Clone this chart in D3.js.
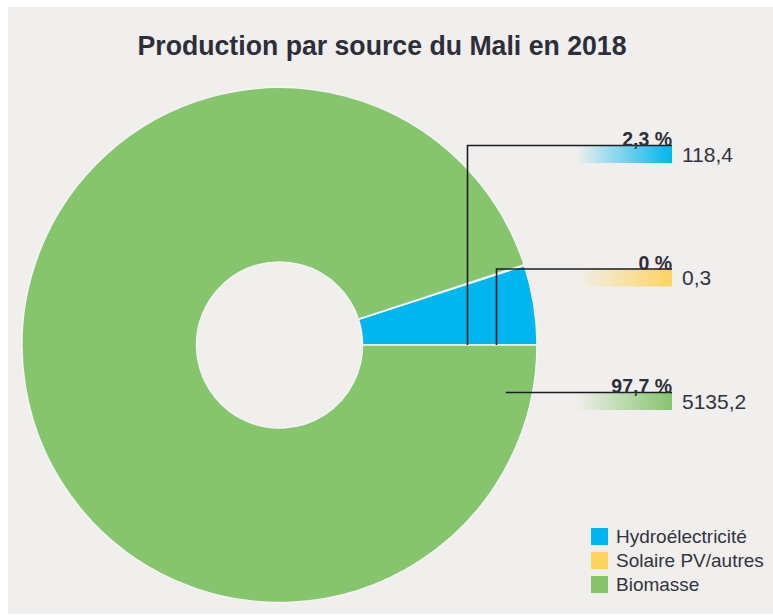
<!DOCTYPE html>
<html>
<head>
<meta charset="utf-8">
<script src="https://cdn.jsdelivr.net/npm/d3@7"></script>
<style>
  html, body { margin: 0; padding: 0; background: #ffffff; }
  svg { display: block; }
</style>
</head>
<body>
<div id="chart"></div>
<script>
const width = 773;
const height = 615;

// data
const sources = ["Hydroélectricité", "Solaire PV/autres", "Biomasse"];
const values = [118.4, 0.3, 5135.2];
// slice sizes as drawn in the picture (the hydro wedge is drawn larger than its 2,3 %)
const drawnShare = [5.0, 0.05, 94.95];
const colors = ["#00b6ef", "#ffd35e", "#86c46e"];

const title = "Production par source du Mali en 2018";

const fontFamily = "'Liberation Sans', Arial, sans-serif";
const textColor = "#333340";

const svg = d3.select("#chart")
  .append("svg")
  .attr("width", width)
  .attr("height", height);

// panel background
svg.append("rect")
  .attr("x", 8)
  .attr("y", 7)
  .attr("width", width - 8)
  .attr("height", height - 8)
  .attr("fill", "#f0efed");

svg.append("text")
  .attr("x", 382)
  .attr("y", 55)
  .attr("text-anchor", "middle")
  .attr("textLength", 489)
  .attr("lengthAdjust", "spacingAndGlyphs")
  .style("font-family", fontFamily)
  .style("font-size", "27px")
  .style("font-weight", "bold")
  .style("fill", "#2e2e3a")
  .text(title);

const cx = 279.5;
const cy = 345;
const outerR = 257.5;
const innerR = 83;

const rows = sources.map((s, i) => ({ source: s, value: values[i], drawn: drawnShare[i], color: colors[i] }));
const total = d3.sum(values);

// the wedges start at 3 o'clock and go counter-clockwise
const pie = d3.pie()
  .sort(null)
  .value(d => d.drawn)
  .startAngle(Math.PI / 2)
  .endAngle(Math.PI / 2 - 2 * Math.PI);

const arc = d3.arc()
  .innerRadius(innerR)
  .outerRadius(outerR);

const pieG = svg.append("g")
  .attr("transform", `translate(${cx},${cy})`);

pieG.selectAll("path")
  .data(pie(rows))
  .enter()
  .append("path")
  .attr("d", arc)
  .attr("fill", d => d.data.color)
  .attr("stroke", "#f4f4f2")
  .attr("stroke-width", 1.5);

// labels on the right
const defs = svg.append("defs");
rows.forEach((d, i) => {
  const grad = defs.append("linearGradient")
    .attr("id", "grad" + i)
    .attr("x1", "0%").attr("x2", "100%")
    .attr("y1", "0%").attr("y2", "0%");
  grad.append("stop").attr("offset", "0%").attr("stop-color", d.color).attr("stop-opacity", 0);
  grad.append("stop").attr("offset", "100%").attr("stop-color", d.color).attr("stop-opacity", 1);
});

const labelRight = 672;
const labelRows = [145.5, 269, 392.5];
// anchor of each leader line: radius and angle (deg, counter-clockwise from 3 o'clock)
const anchors = [
  { r: 188, a: 0 },
  { r: 217, a: 0 },
  { r: 231, a: -11.7 }
];

const fmtPct = v => {
  const p = Math.round(v / total * 1000) / 10;
  return (p === 0 ? "0" : p.toFixed(1).replace(".", ",")) + " %";
};
const fmtVal = v => v.toFixed(1).replace(".", ",");

rows.forEach((d, i) => {
  const ly = labelRows[i];
  const rad = anchors[i].a * Math.PI / 180;
  const ax = cx + anchors[i].r * Math.cos(rad);
  const ay = cy - anchors[i].r * Math.sin(rad);

  svg.append("rect")
    .attr("x", 576)
    .attr("y", ly)
    .attr("width", labelRight - 576)
    .attr("height", 17.5)
    .attr("fill", `url(#grad${i})`);

  const pts = Math.abs(ay - ly) < 1
    ? [[ax, ly], [labelRight, ly]]
    : [[ax, ay], [ax, ly], [labelRight, ly]];

  svg.append("path")
    .attr("d", d3.line()(pts))
    .attr("fill", "none")
    .attr("stroke", "#1e1e22")
    .attr("stroke-width", 1.6);

  svg.append("text")
    .attr("x", labelRight)
    .attr("y", ly + 0.5)
    .attr("text-anchor", "end")
    .style("font-family", fontFamily)
    .style("font-size", "19.5px")
    .style("font-weight", "bold")
    .style("fill", "#2e2e3a")
    .text(fmtPct(d.value));

  svg.append("text")
    .attr("x", 682)
    .attr("y", ly + 16)
    .style("font-family", fontFamily)
    .style("font-size", "21px")
    .style("fill", textColor)
    .text(fmtVal(d.value));
});

// legend
const legend = svg.append("g")
  .attr("transform", "translate(591, 528)");

rows.forEach((d, i) => {
  const row = legend.append("g")
    .attr("transform", `translate(0, ${i * 24})`);

  row.append("rect")
    .attr("width", 17)
    .attr("height", 17)
    .attr("fill", d.color);

  row.append("text")
    .attr("x", 25)
    .attr("y", 15)
    .style("font-family", fontFamily)
    .style("font-size", "19px")
    .style("fill", textColor)
    .text(d.source);
});
</script>
</body>
</html>
